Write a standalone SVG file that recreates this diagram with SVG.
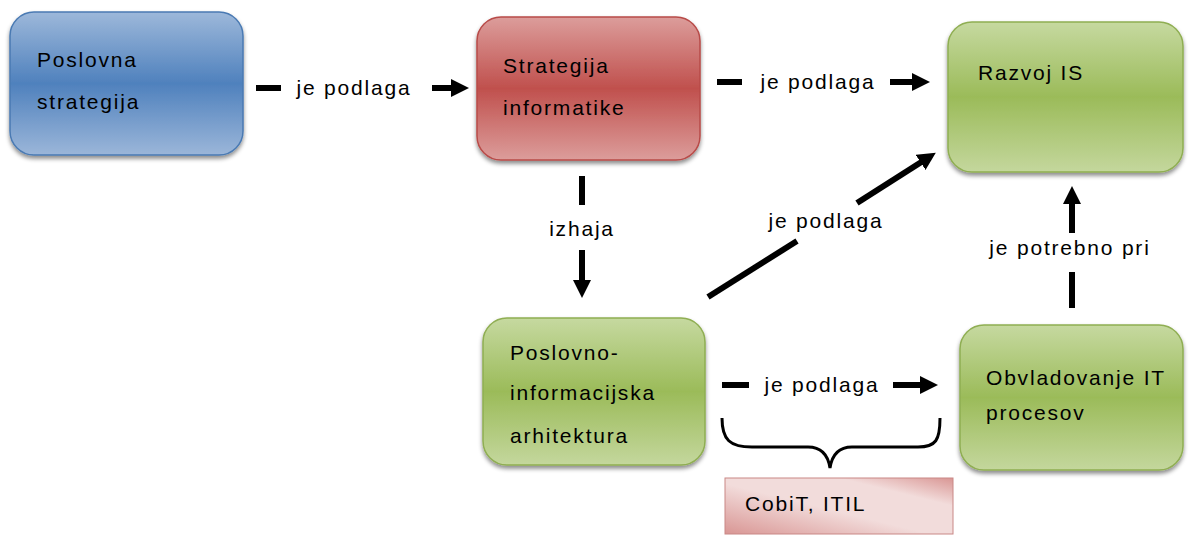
<svg xmlns="http://www.w3.org/2000/svg" width="1194" height="535" viewBox="0 0 1194 535">
  <defs>
    <linearGradient id="gBlue" x1="0" y1="0" x2="0" y2="1">
      <stop offset="0" stop-color="#9db8da"/>
      <stop offset="0.5" stop-color="#4f81bd"/>
      <stop offset="1" stop-color="#9bb6d9"/>
    </linearGradient>
    <linearGradient id="gRed" x1="0" y1="0" x2="0" y2="1">
      <stop offset="0" stop-color="#dc9d9b"/>
      <stop offset="0.5" stop-color="#c0504d"/>
      <stop offset="1" stop-color="#dc9d9b"/>
    </linearGradient>
    <linearGradient id="gGreen" x1="0" y1="0" x2="0" y2="1">
      <stop offset="0" stop-color="#c6d9a0"/>
      <stop offset="0.5" stop-color="#9bbb59"/>
      <stop offset="1" stop-color="#c4d79d"/>
    </linearGradient>
    <linearGradient id="gPink" x1="0" y1="1" x2="1" y2="0">
      <stop offset="0" stop-color="#d99694"/>
      <stop offset="0.45" stop-color="#f2dcdb"/>
      <stop offset="0.75" stop-color="#f2dcdb"/>
      <stop offset="1" stop-color="#d99694"/>
    </linearGradient>
    <filter id="shadow" x="-10%" y="-10%" width="120%" height="125%">
      <feDropShadow dx="0" dy="3" stdDeviation="2" flood-color="#000" flood-opacity="0.45"/>
    </filter>
    <!-- arrowhead: tip sits 12px beyond the end of the shaft -->
    <marker id="arrow" markerUnits="userSpaceOnUse" markerWidth="20" markerHeight="20" viewBox="0 0 20 20" refX="6" refY="10" orient="auto">
      <path d="M0,1 L18,10 L0,19 Z" fill="#000"/>
    </marker>
  </defs>
  <style>
    text { font-family: "Liberation Sans", Arial, sans-serif; font-size: 21px; letter-spacing: 1.8px; fill: #000; }
    .lbl { text-anchor: middle; }
    .box { filter: url(#shadow); }
    .line { stroke: #000; stroke-width: 6; fill: none; }
    .brace { stroke: #000; stroke-width: 3; fill: none; }
  </style>

  <rect width="1194" height="535" fill="#fff"/>

  <!-- nodes -->
  <g id="poslovna-strategija">
    <rect class="box" x="10" y="12" width="233" height="143" rx="24" fill="url(#gBlue)" stroke="#4a7ab3" stroke-width="1.5"/>
    <text x="37" y="67">Poslovna</text>
    <text x="37" y="109">strategija</text>
  </g>

  <g id="strategija-informatike">
    <rect class="box" x="477" y="17" width="223" height="143" rx="24" fill="url(#gRed)" stroke="#b84b48" stroke-width="1.5"/>
    <text x="503" y="73">Strategija</text>
    <text x="503" y="115">informatike</text>
  </g>

  <g id="razvoj-is">
    <rect class="box" x="948" y="22" width="235" height="150" rx="24" fill="url(#gGreen)" stroke="#8fae52" stroke-width="1.5"/>
    <text x="978" y="80">Razvoj IS</text>
  </g>

  <g id="poslovno-informacijska-arhitektura">
    <rect class="box" x="483" y="318" width="222" height="147" rx="24" fill="url(#gGreen)" stroke="#8fae52" stroke-width="1.5"/>
    <text x="510" y="360">Poslovno-</text>
    <text x="510" y="400">informacijska</text>
    <text x="510" y="443">arhitektura</text>
  </g>

  <g id="obvladovanje-it-procesov">
    <rect class="box" x="960" y="325" width="223" height="145" rx="24" fill="url(#gGreen)" stroke="#8fae52" stroke-width="1.5"/>
    <text x="986" y="385">Obvladovanje IT</text>
    <text x="986" y="420">procesov</text>
  </g>

  <g id="cobit-itil">
    <rect x="725" y="478" width="228" height="56" fill="url(#gPink)" stroke="#c98886" stroke-width="1"/>
    <text x="745" y="511">CobiT, ITIL</text>
  </g>

  <!-- connectors -->
  <g id="connectors">
    <!-- Poslovna strategija -> Strategija informatike -->
    <line class="line" x1="256" y1="88" x2="281" y2="88"/>
    <line class="line" x1="432" y1="88" x2="457" y2="88" marker-end="url(#arrow)"/>
    <text class="lbl" x="354" y="95">je podlaga</text>

    <!-- Strategija informatike -> Razvoj IS -->
    <line class="line" x1="717" y1="82" x2="742" y2="82"/>
    <line class="line" x1="890" y1="82" x2="918" y2="82" marker-end="url(#arrow)"/>
    <text class="lbl" x="818" y="89">je podlaga</text>

    <!-- Strategija informatike -> Poslovno-informacijska arhitektura -->
    <line class="line" x1="582" y1="176" x2="582" y2="205"/>
    <line class="line" x1="582" y1="250" x2="582" y2="286" marker-end="url(#arrow)"/>
    <text class="lbl" x="582" y="236">izhaja</text>

    <!-- Poslovno-informacijska arhitektura -> Razvoj IS -->
    <line class="line" x1="708" y1="297" x2="797" y2="241"/>
    <line class="line" x1="857" y1="203" x2="925.7" y2="159.2" marker-end="url(#arrow)"/>
    <text class="lbl" x="826" y="228">je podlaga</text>

    <!-- Obvladovanje IT procesov -> Razvoj IS -->
    <line class="line" x1="1072" y1="308" x2="1072" y2="272"/>
    <line class="line" x1="1072" y1="233" x2="1072" y2="198" marker-end="url(#arrow)"/>
    <text class="lbl" x="1070" y="255">je potrebno pri</text>

    <!-- Poslovno-informacijska arhitektura -> Obvladovanje IT procesov -->
    <line class="line" x1="722" y1="385" x2="749" y2="385"/>
    <line class="line" x1="893" y1="385" x2="926" y2="385" marker-end="url(#arrow)"/>
    <text class="lbl" x="822" y="392">je podlaga</text>

    <!-- brace over CobiT, ITIL -->
    <path class="brace" d="M722,418 C722,440 730,447 752,447 L808,447 C822,447 828,455 830,468 C832,455 838,447 852,447 L918,447 C936,447 940,440 940,418"/>
  </g>
</svg>
